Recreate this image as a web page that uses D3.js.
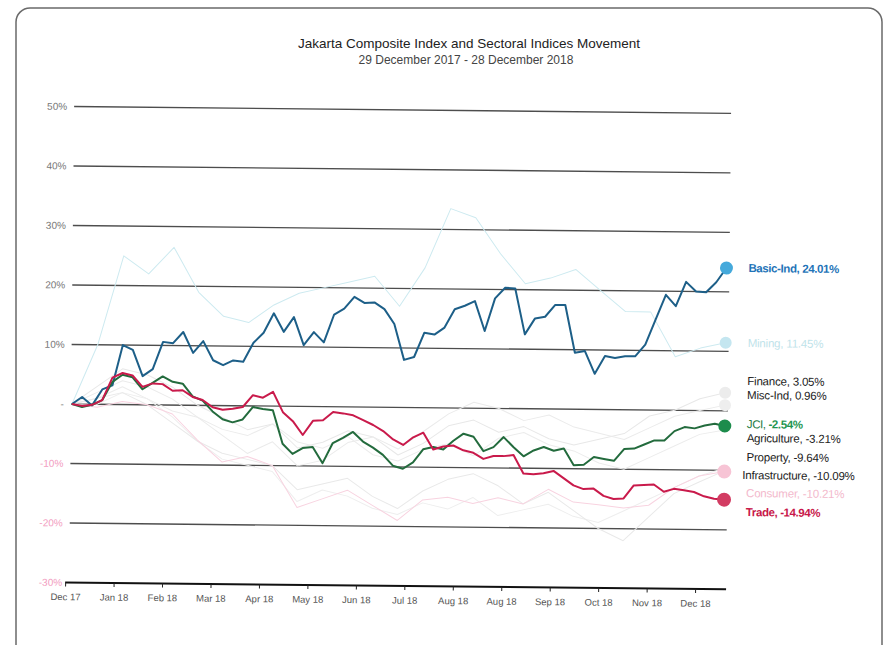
<!DOCTYPE html>
<html>
<head>
<meta charset="utf-8">
<script src="https://cdn.jsdelivr.net/npm/d3@7"></script>
<style>
  body { margin: 0; background: #fff; }
  svg { font-family: "Liberation Sans", Arial, sans-serif; }
</style>
</head>
<body>
<svg id="chart"></svg>
<script>
// x axis labels (evenly spaced, as printed)
const tickLabels = ["Dec 17", "Jan 18", "Feb 18", "Mar 18", "Apr 18", "May 18", "Jun 18",
    "Jul 18", "Aug 18", "Aug 18", "Sep 18", "Oct 18", "Nov 18", "Dec 18"];
const yTicks = [-30, -20, -10, 0, 10, 20, 30, 40, 50];

// highlighted series, % change since 29 Dec 2017
const basicInd = [0, 1.2, -0.2, 2.5, 3.2, 10.0, 9.2, 4.8, 6.0, 10.6,
    10.4, 12.3, 8.8, 10.8, 7.6, 6.8, 7.6, 7.4, 10.6, 12.3,
    15.6, 12.5, 15.0, 10.3, 12.5, 10.8, 15.5, 16.5, 18.5, 17.5,
    17.6, 16.5, 14.0, 8.0, 8.5, 12.6, 12.3, 13.5, 16.6, 17.2,
    18.0, 13.0, 18.5, 20.3, 20.2, 12.5, 15.2, 15.5, 17.5, 17.5,
    9.5, 9.8, 6.0, 9.0, 8.7, 9.0, 9.0, 11.0, 15.2, 19.4,
    17.5, 21.6, 20.0, 19.9, 21.6, 24.01];
const jci = [0, -0.5, -0.1, 0.7, 3.8, 5.0, 4.6, 2.6, 3.7, 4.8,
    3.9, 3.6, 1.5, 0.8, -1.0, -2.3, -2.8, -2.3, -0.2, -0.5,
    -0.7, -6.3, -8.0, -7.0, -6.8, -9.5, -6.1, -5.2, -4.2, -5.8,
    -6.8, -8.0, -9.8, -10.3, -9.2, -7.0, -6.6, -7.0, -5.5, -4.3,
    -4.8, -7.2, -6.5, -4.8, -6.5, -8.0, -7.0, -6.4, -7.0, -6.6,
    -9.4, -9.3, -8.0, -8.3, -8.6, -6.6, -6.5, -5.8, -5.1, -5.1,
    -3.5, -2.8, -3.0, -2.5, -2.2, -2.54];
const trade = [0, -0.3, -0.1, 0.7, 4.5, 5.3, 4.9, 3.0, 3.6, 3.5,
    2.4, 2.5, 1.4, 0.9, -0.3, -0.7, -0.5, -0.2, 1.8, 1.4,
    2.4, -1.0, -2.5, -4.8, -2.4, -2.3, -0.9, -1.1, -1.4, -2.2,
    -3.0, -4.0, -5.4, -6.3, -5.0, -4.2, -7.0, -6.5, -6.3, -7.1,
    -7.5, -8.5, -8.0, -8.0, -7.8, -10.9, -11.0, -10.8, -10.4, -11.6,
    -12.8, -13.4, -13.3, -14.5, -15.0, -14.9, -12.7, -12.6, -12.5, -13.7,
    -13.2, -13.4, -13.7, -14.4, -14.8, -14.94];

// faint series, coarser readings
const mining = [0, 10, 25, 22, 26.5, 19, 15, 14, 17, 19, 20, 21, 22, 17,
    23.5, 33.5, 32, 26, 21, 22, 23.5, 20, 16.5, 16.5, 9, 10.5, 11.45];
const finance = [0, 3, 6, 5, 3, 0, -2, -4, -3, -7, -6, -4, -5, -8,
    -6, -3, -2, -4, -3, -5, -6, -5, -4, -1, 0, 2, 3.05];
const miscInd = [0, 2, 4, 3, 1, -2, -5, -8, -6, -10, -9, -6, -5, -7,
    -4, -1, 1, 0, -2, -1, -3, -4, -5, -3, -1, 0, 0.96];
const agriculture = [0, 1, 3, 1, -1, -2, -4, -5, -3, -6, -7, -5, -8, -9,
    -7, -6, -8, -5, -4, -6, -7, -9, -10, -8, -6, -4, -3.21];
const property = [0, 0, 2, 1, -2, -6, -9, -10, -11, -16, -14, -15, -17, -18,
    -16, -17, -15, -18, -17, -16, -18, -19, -17, -15, -13, -11, -9.64];
const infrastructure = [0, 1, 2, 0, -3, -6, -8, -9, -10, -14, -13, -12, -15, -17,
    -14, -12, -11, -13, -16, -14, -17, -20, -22, -18, -14, -12, -10.09];
const consumer = [0, -0.5, 0.5, 0, -1.5, -5.8, -9.5, -8.5, -10, -17, -15.5, -14, -16.5, -19,
    -15.5, -15, -16, -15, -16, -13.5, -15.6, -16, -16.5, -16, -13, -11, -10.21];

(function(){
    "use strict";

    const width = 889,
        height = 645;

    const series = [
        {name: "Finance", values: finance},
        {name: "Misc-Ind", values: miscInd},
        {name: "Agriculture", values: agriculture},
        {name: "Property", values: property},
        {name: "Infrastructure", values: infrastructure},
        {name: "Mining", values: mining},
        {name: "Consumer", values: consumer},
        {name: "Basic-Ind", values: basicInd},
        {name: "JCI", values: jci},
        {name: "Trade", values: trade}
    ];

    // look of each series and where its end label sits
    const style = {
        "Basic-Ind":      {line: "#1d5f88", w: 2, dot: "#45a9db", r: 6.5, text: "#1f74b8", bold: true, ly: 261},
        "Mining":         {line: "#cdeaf0", w: 1, dot: "#c4e6f0", r: 6, text: "#bfe3ea", ly: 336},
        "Finance":        {line: "#e8e8e8", w: 1, dot: "#ececec", r: 6, text: "#222", ly: 374},
        "Misc-Ind":       {line: "#ebebeb", w: 1, dot: "#eeeeee", r: 6, text: "#222", ly: 388},
        "JCI":            {line: "#236b3d", w: 2, dot: "#1d8c4c", r: 6.5, text: "#1c7a3f", bold: true, ly: 417},
        "Agriculture":    {line: "#ececec", w: 1, dot: "none", r: 0, text: "#222", ly: 431},
        "Property":       {line: "#eeeeee", w: 1, dot: "none", r: 0, text: "#222", ly: 450},
        "Infrastructure": {line: "#e9e9e9", w: 1, dot: "none", r: 0, text: "#222", ly: 468, lx: 743},
        "Consumer":       {line: "#f8d3e0", w: 1, dot: "#f7c4d5", r: 7, text: "#f3b9cc", ly: 486},
        "Trade":          {line: "#c91a4b", w: 2, dot: "#d23c62", r: 7, text: "#c8174a", bold: true, ly: 505}
    };

    let svg = d3.select("svg#chart")
        .attr("width", width)
        .attr("height", height);

    // card frame
    svg.append("rect")
        .attr("x", 16).attr("y", 8)
        .attr("width", 866).attr("height", 660)
        .attr("rx", 14)
        .attr("fill", "#fff")
        .attr("stroke", "#6a6a6a")
        .attr("stroke-width", 1.5);

    svg.append("text")
        .attr("x", 469).attr("y", 48)
        .attr("text-anchor", "middle")
        .attr("font-size", 13.5)
        .attr("fill", "#222")
        .text("Jakarta Composite Index and Sectoral Indices Movement");
    svg.append("text")
        .attr("x", 466).attr("y", 64)
        .attr("text-anchor", "middle")
        .attr("font-size", 12)
        .attr("fill", "#444")
        .text("29 December 2017 - 28 December 2018");

    const x = d3.scaleLinear().domain([0, 1]).range([72, 725]);
    const y = d3.scaleLinear().domain([-30, 50]).range([582.5, 106.5]);
    const xt = d3.scalePoint().domain(d3.range(tickLabels.length)).range([67, 697]);

    // the printed page is photographed slightly tilted
    let g = svg.append("g")
        .attr("transform", "rotate(0.6, 72, 404)");

    // grid
    g.selectAll("line.grid")
        .data(yTicks.filter(function(d) { return d > -30; }))
        .enter().append("line")
        .attr("class", "grid")
        .attr("x1", 71).attr("x2", 728)
        .attr("y1", function(d) { return y(d); })
        .attr("y2", function(d) { return y(d); })
        .attr("stroke", "#4d4d4d")
        .attr("stroke-width", 1.4);

    // y labels
    g.selectAll("text.ylab")
        .data(yTicks)
        .enter().append("text")
        .attr("class", "ylab")
        .attr("x", 64)
        .attr("y", function(d) { return y(d); })
        .attr("dy", "0.35em")
        .attr("text-anchor", "end")
        .attr("font-size", 10)
        .attr("fill", function(d) { return d < 0 ? "#f29cc0" : "#777"; })
        .text(function(d) { return d === 0 ? "-" : d + "%"; });

    // x axis
    let xAxis = g.append("g")
        .attr("transform", `translate(0, ${y(-30)})`)
        .call(d3.axisBottom(xt).tickSize(4).tickFormat(function(i) { return tickLabels[i]; }));
    xAxis.select(".domain")
        .attr("d", "M67,0H728")
        .attr("stroke", "#111")
        .attr("stroke-width", 2);
    xAxis.selectAll(".tick line").attr("stroke", "#222");
    xAxis.selectAll(".tick text")
        .attr("y", 11)
        .attr("font-size", 9.5)
        .attr("font-family", "Liberation Sans, Arial, sans-serif")
        .attr("fill", "#555");

    const line = d3.line()
        .x(function(d, i, arr) { return x(i / (arr.length - 1)); })
        .y(function(d) { return y(d); });

    g.selectAll("path.series")
        .data(series)
        .enter().append("path")
        .attr("class", "series")
        .attr("fill", "none")
        .attr("stroke", function(d) { return style[d.name].line; })
        .attr("stroke-width", function(d) { return style[d.name].w; })
        .attr("stroke-linejoin", "round")
        .attr("d", function(d) { return line(d.values); });

    // end markers
    g.selectAll("circle.end")
        .data(series.filter(function(d) { return style[d.name].r > 0; }))
        .enter().append("circle")
        .attr("class", "end")
        .attr("cx", x(1))
        .attr("cy", function(d) { return y(d.values[d.values.length - 1]); })
        .attr("r", function(d) { return style[d.name].r; })
        .attr("fill", function(d) { return style[d.name].dot; });

    // end labels
    let labels = g.selectAll("text.lab")
        .data(series)
        .enter().append("text")
        .attr("class", "lab")
        .attr("x", function(d) { return style[d.name].lx || 747; })
        .attr("y", function(d) { return style[d.name].ly; })
        .attr("dy", "0.35em")
        .attr("font-size", 11.5)
        .attr("fill", function(d) { return style[d.name].text; })
        .attr("font-weight", function(d) { return style[d.name].bold && d.name !== "JCI" ? "bold" : null; })
        .attr("letter-spacing", function(d) { return style[d.name].bold ? -0.4 : -0.2; });

    labels.append("tspan")
        .text(function(d) {
            let last = d.values[d.values.length - 1];
            return d.name === "JCI" ? "JCI, " : `${d.name}, ${last.toFixed(2)}%`;
        });
    labels.filter(function(d) { return d.name === "JCI"; })
        .append("tspan")
        .attr("font-weight", "bold")
        .attr("fill", "#1f9650")
        .text(function(d) { return d.values[d.values.length - 1].toFixed(2) + "%"; });
})();
</script>
</body>
</html>
